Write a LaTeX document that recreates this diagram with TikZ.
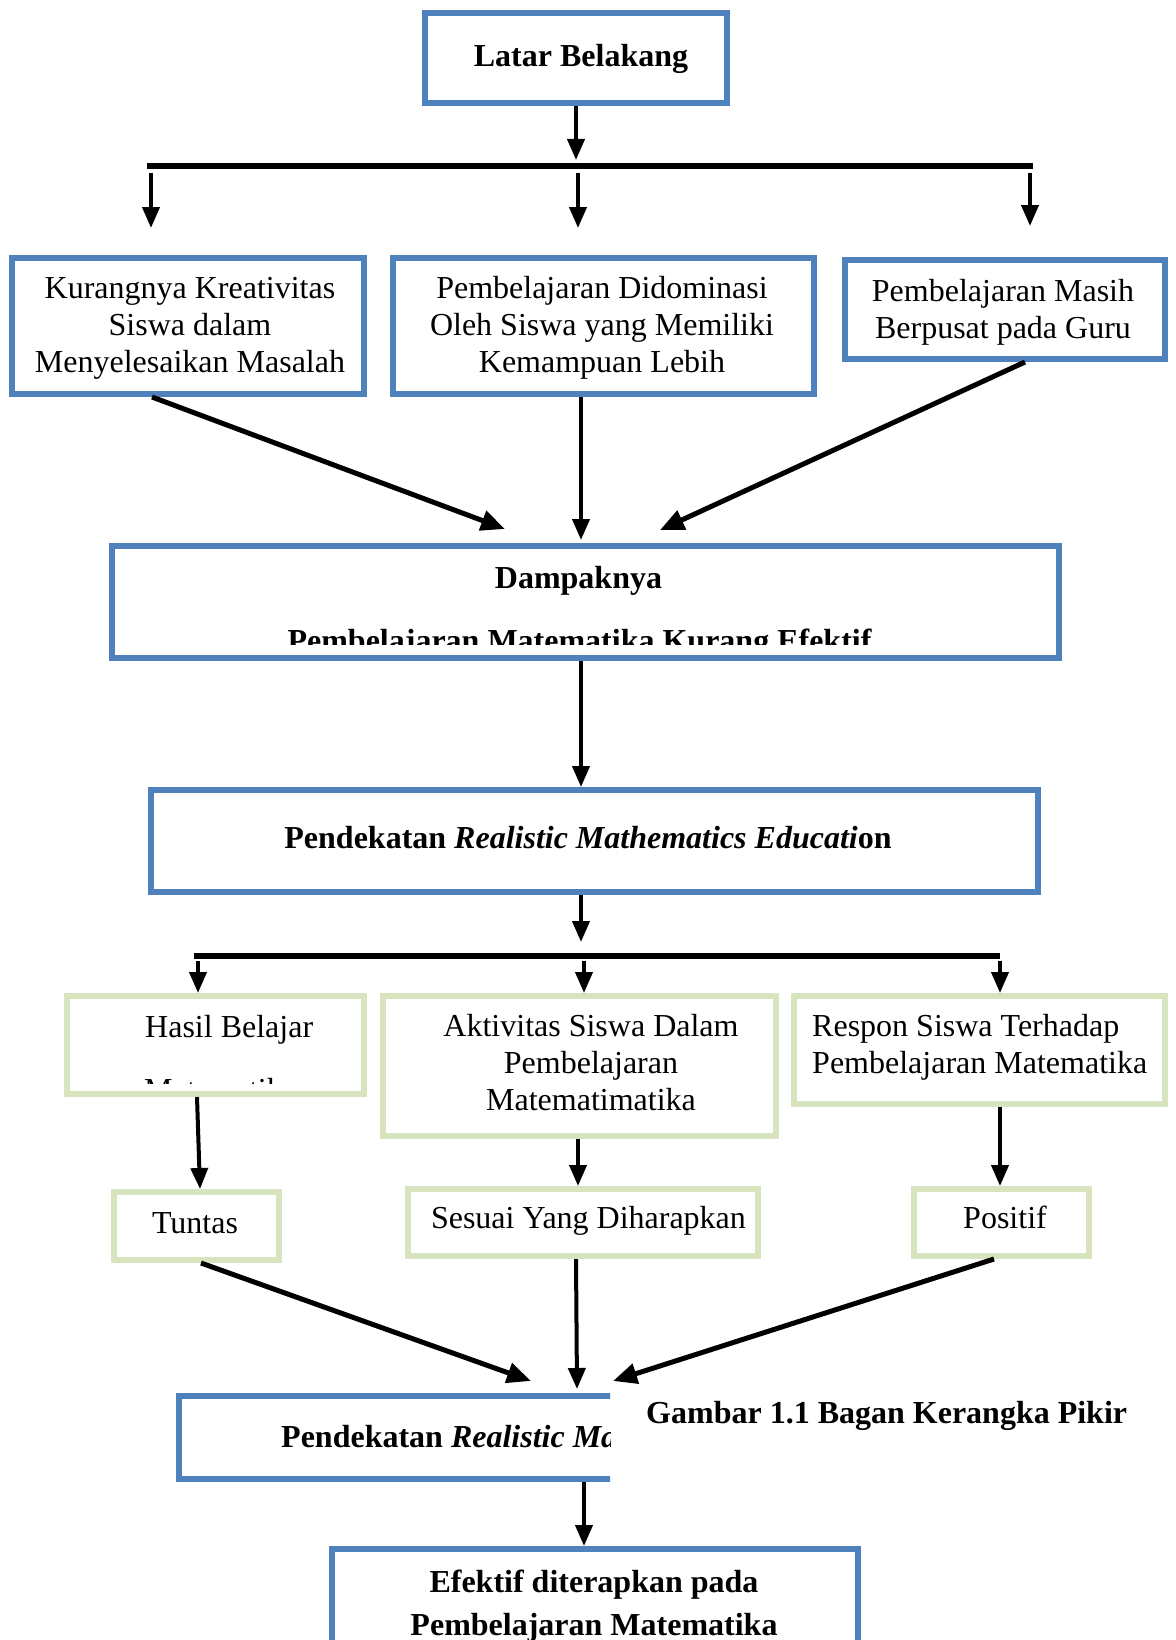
\documentclass[tikz,border=0pt]{standalone}
\usepackage{fontspec}
\setmainfont{Liberation Serif}
\usetikzlibrary{arrows.meta}
\definecolor{boxblue}{HTML}{4F81BD}
\definecolor{boxgreen}{HTML}{D7E4BD}
\tikzset{
  bluebox/.style={draw=boxblue, line width=6pt, inner sep=0pt, rectangle, fill=white},
  greenbox/.style={draw=boxgreen, line width=6pt, inner sep=0pt, rectangle, fill=white},
  txt/.style={inner sep=0pt, anchor=base, font=\fontsize{32}{37}\selectfont, align=center},
  btxt/.style={txt, font=\fontsize{32}{37}\selectfont\bfseries},
  arr/.style={line width=4pt, -{Triangle[width=17pt,length=21pt]}},
  sarr/.style={line width=5pt, -{Triangle[width=20pt,length=24pt]}},
  barline/.style={line width=6.5pt},
}
\begin{document}
\begin{tikzpicture}[x=1pt,y=-1pt]
\useasboundingbox (0,0) rectangle (1175,1640);
\clip (0,0) rectangle (1175,1640);
\fill[white] (0,0) rectangle (1175,1640);

% ---- top level
\node[bluebox, minimum width=302pt, minimum height=90pt] (latar) at (576,58) {};
\node[btxt] (tlatar) at (581,67) {Latar Belakang};

\coordinate (barAL) at (147,166);
\coordinate (barAR) at (1033,166);
\draw[arr] (latar.south) -- (576,160);
\draw[barline] (barAL) -- (barAR);

\node[bluebox, minimum width=352pt, minimum height=136pt] (b1) at (188,326) {};
\node[bluebox, minimum width=421pt, minimum height=136pt] (b2) at (603.5,326) {};
\node[bluebox, minimum width=320pt, minimum height=99pt] (b3) at (1005,309.5) {};
\node[txt] (tb1) at (190,372) {Kurangnya Kreativitas\\Siswa dalam\\Menyelesaikan Masalah};
\node[txt] (tb2) at (602,372) {Pembelajaran Didominasi\\Oleh Siswa yang Memiliki\\Kemampuan Lebih};
\node[txt] (tb3) at (1003,338) {Pembelajaran Masih\\Berpusat pada Guru};

\coordinate (dA1) at (151,173);
\coordinate (dA2) at (578,173);
\coordinate (dA3) at (1030,173);
\draw[arr] (dA1) -- (151,228);
\draw[arr] (dA2) -- (578,228);
\draw[arr] (dA3) -- (1030,226);

% ---- Dampaknya
\node[bluebox, minimum width=947pt, minimum height=112pt] (dampak) at (585.5,602) {};
\node[btxt] (tdampak) at (578.5,588) {Dampaknya};
\begin{scope}
  \clip (112,546) rectangle (1059,644);
  \node[btxt] (tdampak2) at (579.5,651) {Pembelajaran Matematika Kurang Efektif};
\end{scope}

\draw[sarr] ([xshift=-36pt]b1.south) -- ([xshift=-80.5pt,yshift=14pt]dampak.north);
\draw[arr] ([xshift=-22.5pt]b2.south) -- ([xshift=-4.5pt,yshift=3pt]dampak.north);
\draw[sarr] ([xshift=20pt]b3.south) -- ([xshift=74.5pt,yshift=13pt]dampak.north);

% ---- RME
\node[bluebox, minimum width=887pt, minimum height=102pt] (rme) at (594.5,841) {};
\node[btxt] (trme) at (588,848) {Pendekatan \textit{Realistic Mathematics Educati}on};
\draw[arr] ([xshift=-4.5pt]dampak.south) -- ([xshift=-13.5pt]rme.north);
\draw[arr] ([xshift=-13.5pt]rme.south) -- (581,942);

\coordinate (barBL) at (194,956);
\coordinate (barBR) at (1000,956);
\draw[barline] (barBL) -- (barBR);

% ---- green row
\node[greenbox, minimum width=297pt, minimum height=98pt] (hasil) at (215.5,1045) {};
\node[greenbox, minimum width=393pt, minimum height=140pt] (aktiv) at (579.5,1066) {};
\node[greenbox, minimum width=371pt, minimum height=108pt] (respon) at (979.5,1050) {};
\node[txt, anchor=base west] (thasil) at (145,1037) {Hasil Belajar};
\begin{scope}
  \clip (67,996) rectangle (364,1083);
  \node[txt, anchor=base west] (thasil2) at (144,1100) {Matematika};
\end{scope}
\node[txt] (taktiv) at (591,1110) {Aktivitas Siswa Dalam\\Pembelajaran\\Matematimatika};
\node[txt, anchor=base west, align=left] (trespon) at (812,1073) {Respon Siswa Terhadap\\Pembelajaran Matematika};

\coordinate (dB1) at (198,961);
\coordinate (dB2) at (584,961);
\coordinate (dB3) at (1000,961);
\draw[arr] (dB1) -- ([xshift=-17.5pt]hasil.north);
\draw[arr] (dB2) -- ([xshift=4.5pt]aktiv.north);
\draw[arr] (dB3) -- ([xshift=20.5pt]respon.north);

% ---- result row
\node[greenbox, minimum width=165pt, minimum height=68pt] (tuntas) at (196.5,1226) {};
\node[greenbox, minimum width=350pt, minimum height=67pt] (sesuai) at (583,1222.5) {};
\node[greenbox, minimum width=175pt, minimum height=67pt] (positif) at (1001.5,1222.5) {};
\node[txt] (ttuntas) at (195,1233) {Tuntas};
\node[txt] (tsesuai) at (588.5,1228) {Sesuai Yang Diharapkan};
\node[txt] (tpositif) at (1005,1228) {Positif};

\draw[arr] ([xshift=-18.5pt]hasil.south) -- ([xshift=3.5pt]tuntas.north);
\draw[arr] ([xshift=-1.5pt]aktiv.south) -- ([xshift=-5pt]sesuai.north);
\draw[arr] ([xshift=20.5pt]respon.south) -- ([xshift=-1.5pt]positif.north);

% ---- second RME (clipped)
\begin{scope}
  \clip (0,1380) rectangle (610,1500);
  \node[bluebox, minimum width=859pt, minimum height=83pt] (rme2) at (608.5,1437.5) {};
  \node[btxt, anchor=base west] (trme2) at (281,1447) {Pendekatan \textit{Realistic Ma}};
\end{scope}
\node[btxt, anchor=base west] (caption) at (646,1423) {Gambar 1.1 Bagan Kerangka Pikir};

\draw[sarr] ([xshift=4.5pt]tuntas.south) -- ([xshift=-77.5pt,yshift=12pt]rme2.north);
\draw[arr] ([xshift=-7pt]sesuai.south) -- ([xshift=-31.5pt,yshift=4pt]rme2.north);
\draw[sarr] ([xshift=-7.5pt]positif.south) -- ([xshift=4.5pt,yshift=12pt]rme2.north);

% ---- final
\node[bluebox, minimum width=526pt, minimum height=151pt] (final) at (595,1624.5) {};
\node[btxt, font=\fontsize{32}{43}\selectfont\bfseries] (tfinal) at (594,1635) {Efektif diterapkan pada\\Pembelajaran Matematika};
\draw[arr] ([xshift=-24.5pt]rme2.south) -- ([xshift=-11pt]final.north);
\end{tikzpicture}
\end{document}
